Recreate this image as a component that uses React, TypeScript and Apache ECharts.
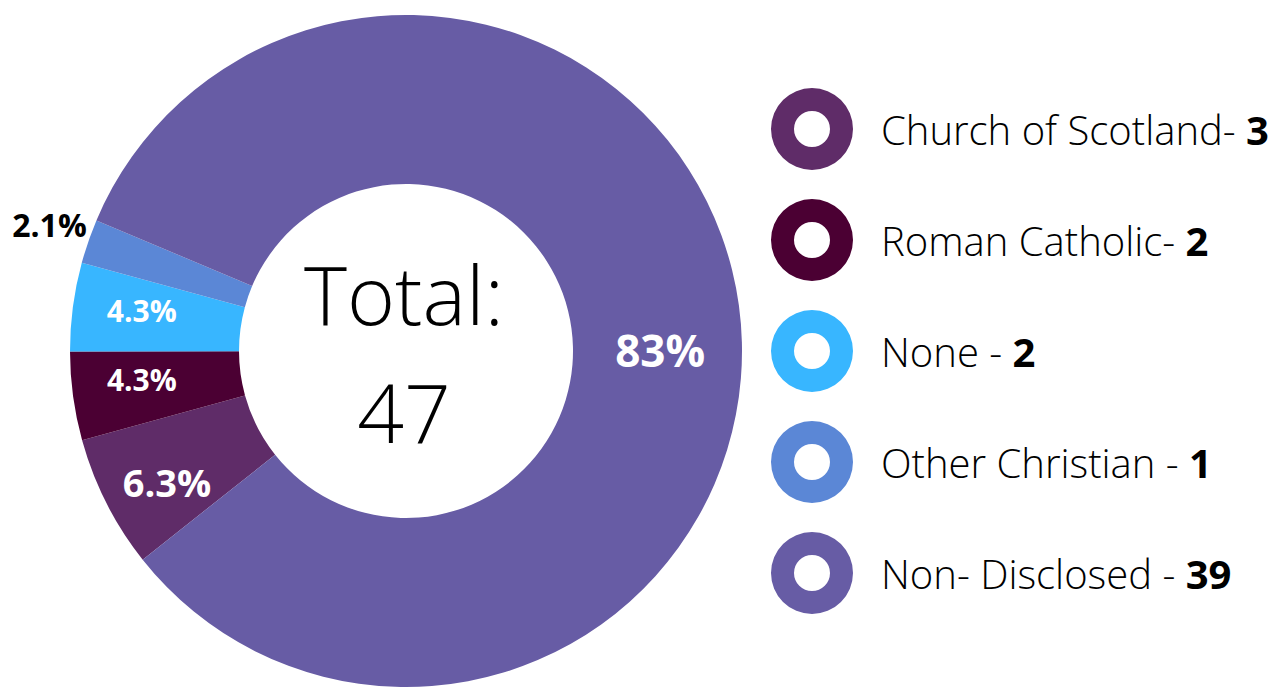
import React, { useEffect, useRef } from "react";
import * as echarts from "echarts";

const categories = ["Church of Scotland", "Roman Catholic", "None", "Other Christian", "Non- Disclosed"];
const legendNames = ["Church of Scotland- ", "Roman Catholic- ", "None - ", "Other Christian - ", "Non- Disclosed - "];
const values = [3, 2, 2, 1, 39];
const percentLabels = ["6.3%", "4.3%", "4.3%", "2.1%", "83%"];
const colors = ["#5f2c68", "#4b0033", "#38b6ff", "#5b87d6", "#675ca5"];
const labelSizes = [38, 30, 30, 32, 44];
const labelOffsets = [[-12, 16], [-12, -6], [-12, -7], [-116, -43], [2, 33]];
const labelColors = ["#ffffff", "#ffffff", "#ffffff", "#000000", "#ffffff"];

const RING =
  "path://M0,41A41,41,0,1,0,82,41A41,41,0,1,0,0,41Z M23,41A18,18,0,1,1,59,41A18,18,0,1,1,23,41Z";

export default function App() {
  const ref = useRef<HTMLDivElement>(null);
  useEffect(() => {
    const chart = echarts.init(ref.current!, null, { renderer: "svg" });
    const total = values.reduce((a, b) => a + b, 0);
    chart.setOption({
      animation: false,
      backgroundColor: "#ffffff",
      legend: {
        orient: "vertical",
        left: 771,
        top: 88,
        padding: 0,
        itemWidth: 82,
        itemHeight: 82,
        itemGap: 29,
        icon: RING,
        selectedMode: false,
        data: categories,
        formatter: (name: string) => {
          const i = categories.indexOf(name);
          return `{n|${legendNames[i]}}{v|${values[i]}}`;
        },
        textStyle: {
          rich: {
            n: {
              fontFamily: "Open Sans",
              fontWeight: 300,
              fontSize: 40,
              color: "#000",
              padding: [0, 0, 0, 23],
            },
            v: {
              fontFamily: "Open Sans",
              fontWeight: "bold",
              fontSize: 40,
              color: "#000",
            },
          },
        },
      },
      graphic: [
        {
          type: "text",
          x: 404,
          y: 293,
          style: {
            text: "Total:",
            fontFamily: "Open Sans",
            fontWeight: 300,
            fontSize: 82,
            fill: "#000",
            textAlign: "center",
            textVerticalAlign: "middle",
          },
        },
        {
          type: "text",
          x: 404,
          y: 411,
          style: {
            text: String(total),
            fontFamily: "Open Sans",
            fontWeight: 300,
            fontSize: 82,
            fill: "#000",
            textAlign: "center",
            textVerticalAlign: "middle",
          },
        },
      ],
      series: [
        {
          type: "pie",
          center: [406, 351],
          radius: [167, 336],
          startAngle: 218.4,
          clockwise: true,
          avoidLabelOverlap: false,
          labelLine: { show: false },
          emphasis: { disabled: true },
          data: categories.map((c, i) => ({
            name: c,
            value: values[i],
            itemStyle: { color: colors[i] },
            label: {
              show: true,
              position: "inside",
              formatter: percentLabels[i],
              fontFamily: "Open Sans",
              fontWeight: "bold",
              fontSize: labelSizes[i],
              color: labelColors[i],
              offset: labelOffsets[i],
            },
          })),
        },
      ],
    });
    return () => chart.dispose();
  }, []);
  return (
    <div
      ref={ref}
      style={{ position: "absolute", left: 0, top: 0, width: 1276, height: 692 }}
    />
  );
}
